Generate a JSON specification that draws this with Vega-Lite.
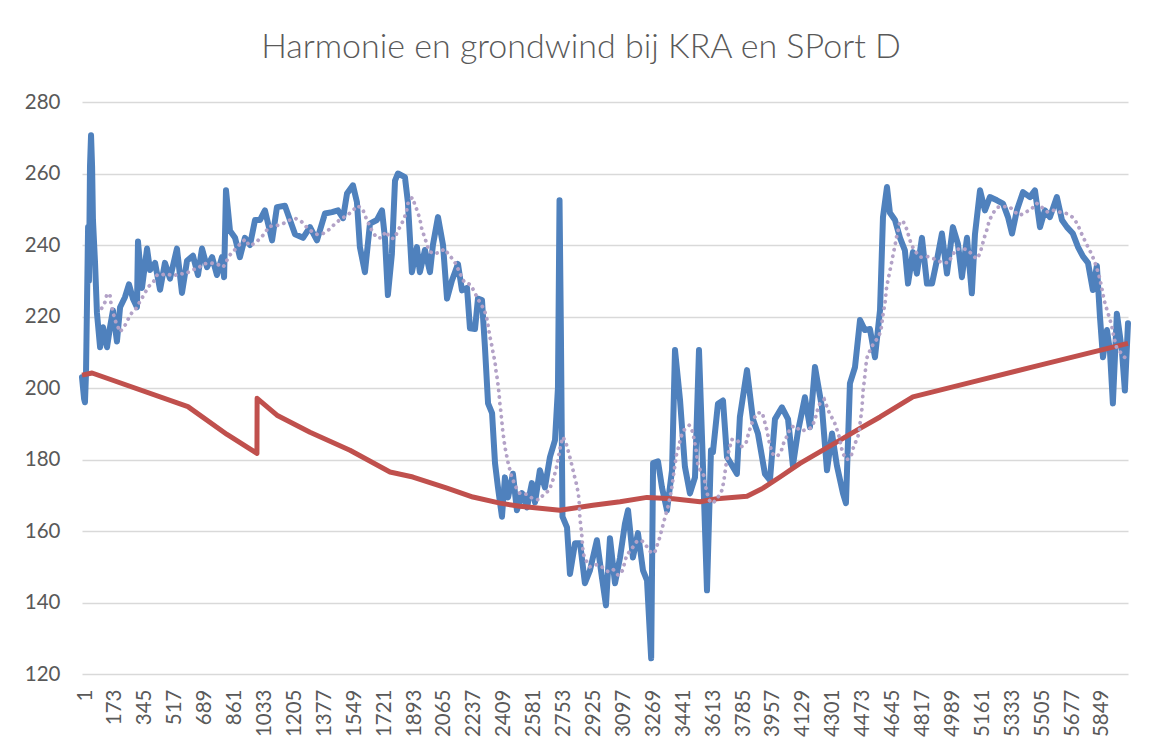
{
  "$schema": "https://vega.github.io/schema/vega-lite/v6.json",
  "width": 1046,
  "height": 572,
  "autosize": {"type": "none"},
  "padding": {"left": 82, "top": 102, "right": 23, "bottom": 77},
  "background": "white",
  "title": {
    "text": "Harmonie en grondwind bij KRA en SPort D",
    "anchor": "middle",
    "frame": "group",
    "dx": -24,
    "offset": 27,
    "font": "Lato",
    "fontSize": 34,
    "fontWeight": 300,
    "color": "#595959"
  },
  "config": {
    "view": {"stroke": null},
    "axis": {"labelFont": "Lato", "labelColor": "#595959", "labelFontSize": 20.5}
  },
  "datasets": {
    "blue": [[1,203],[13,197],[18,196],[24,204],[36,245],[41,230],[47,262],[53,270.7],[59,262],[64,247],[76,235],[87,221],[105,211.4],[122,217],[145,211.4],[162,217],[179,221.7],[202,213],[220,222.6],[248,225.4],[271,229],[294,225],[317,222.6],[323,241],[346,228],[375,239],[392,233],[421,235],[450,227.5],[478,235],[507,230.6],[547,239],[576,226.6],[605,235.6],[639,237],[668,231.6],[691,239],[720,233.8],[749,236.6],[777,231.6],[806,236.6],[818,231],[829,255.3],[852,244],[881,242],[909,236.6],[938,242],[967,240],[996,247],[1025,247],[1053,249.7],[1094,241.3],[1122,250.6],[1168,251],[1197,247],[1226,243],[1272,242],[1312,245],[1352,241.3],[1398,248.8],[1439,249.2],[1473,249.7],[1502,247.5],[1525,254.4],[1559,256.7],[1582,252],[1599,239.4],[1628,232.4],[1657,246],[1697,247],[1726,249.7],[1743,242],[1760,226],[1783,237.5],[1801,258],[1818,260],[1858,259],[1875,252],[1898,232.4],[1927,239.4],[1944,232.4],[1973,238.6],[2002,232.4],[2019,240],[2048,247.8],[2077,240],[2100,225],[2128,230],[2163,234.7],[2186,227.3],[2215,228],[2232,216.7],[2261,216.5],[2278,225],[2301,224.6],[2318,211.5],[2336,195.7],[2359,193],[2376,179],[2393,172.2],[2416,164],[2433,175],[2451,169.4],[2479,176],[2502,165.8],[2531,170.6],[2560,166.6],[2588,173.4],[2606,168],[2634,177],[2663,172.2],[2692,180.7],[2721,185.4],[2738,200],[2747,252.5],[2755,215],[2764,164],[2790,161],[2807,148],[2836,156.6],[2865,156.6],[2893,145.4],[2922,149],[2962,157.4],[2991,147],[3014,139.2],[3037,158],[3066,145.4],[3095,152.6],[3123,162],[3141,165.8],[3169,152.6],[3198,159.4],[3227,149],[3250,146.2],[3274,124.4],[3285,179],[3313,179.5],[3336,172.2],[3365,165.8],[3394,177],[3411,210.6],[3440,196.6],[3468,178],[3497,170.5],[3526,175],[3549,210.6],[3572,178],[3595,143.4],[3618,182.6],[3629,182],[3658,195.6],[3687,196.5],[3710,180.7],[3739,178.3],[3767,176],[3784,191.8],[3825,205],[3859,191.3],[3888,187.3],[3928,176],[3957,174.2],[3986,191.3],[4026,194.6],[4061,191.3],[4089,178.3],[4118,187.8],[4158,197.4],[4187,189],[4216,205.9],[4256,194.6],[4285,177],[4314,187.3],[4342,178.3],[4377,170.5],[4394,167.8],[4417,201.3],[4446,205.8],[4475,219],[4503,216.2],[4532,216.5],[4561,208.6],[4590,221.8],[4607,247.8],[4630,256.2],[4647,249],[4676,247],[4705,242],[4733,238.5],[4751,229.2],[4779,238],[4802,232],[4831,242],[4860,229.2],[4889,229.2],[4917,235.7],[4946,243.2],[4975,232],[5009,245],[5038,240.3],[5061,231],[5090,242],[5118,226.5],[5136,243],[5165,255.3],[5193,249.7],[5222,253.4],[5262,252.5],[5297,251.6],[5326,247.8],[5349,243.2],[5377,249.7],[5412,254.8],[5452,253.4],[5481,255.3],[5510,245],[5538,249.7],[5567,247.8],[5607,253.4],[5636,247],[5665,245],[5699,243.2],[5728,239.5],[5757,236.8],[5786,235],[5814,227.4],[5837,234.2],[5855,219.8],[5872,208.6],[5895,216.2],[5912,210.5],[5929,195.7],[5952,220.8],[5981,210.5],[5998,199.3],[6016,218.1]],
    "red": [[1,203.6],[59,204.2],[610,194.8],[835,187],[1007,181.7],[1008,197.1],[1122,192.4],[1312,187.6],[1542,182.6],[1772,176.5],[1904,175.1],[2100,172],[2249,169.5],[2404,167.8],[2519,166.9],[2749,165.8],[2939,167.2],[3095,168.2],[3250,169.4],[3400,169],[3555,168.2],[3652,169],[3825,169.7],[3917,172],[4015,175.1],[4130,178.9],[4360,185.4],[4475,188.7],[4590,191.9],[4779,197.5],[5124,201.7],[5510,206.4],[6016,212.5]],
    "purple": [[114,222.3],[133,224],[145,226.4],[162,226],[168,223.6],[179,221.2],[191,219],[220,215.7],[248,217.5],[267,219.3],[287,221],[316,222.5],[335,224.3],[358,226.1],[382,228.3],[411,229.6],[434,231.7],[461,231.7],[491,231.9],[526,231.3],[559,232],[595,231.9],[634,233],[668,233.5],[698,234.7],[737,235],[776,234.7],[813,233.8],[833,235.6],[856,237.5],[886,239],[914,240.5],[940,241.6],[963,239.8],[996,240.5],[1024,241.8],[1053,243.3],[1076,245.2],[1120,245.4],[1158,246],[1197,247],[1230,247.4],[1264,246.5],[1293,245],[1322,243.8],[1356,242.9],[1394,243.3],[1427,244.5],[1456,246],[1490,247.3],[1523,248.2],[1555,249.5],[1586,251],[1615,250],[1634,247.6],[1653,245.6],[1670,243.8],[1696,242],[1724,242],[1749,243.8],[1772,242],[1797,241.8],[1816,243.8],[1835,245.6],[1854,247.4],[1868,249.7],[1877,252],[1900,253.3],[1916,251.2],[1931,249.3],[1945,247],[1954,244.7],[1968,242.6],[1983,240.4],[1996,238.4],[2021,237.5],[2055,237.9],[2086,238.9],[2113,237.1],[2140,235.7],[2159,233.8],[2178,231.7],[2199,229.6],[2232,229],[2255,227.2],[2276,225],[2299,223.2],[2318,221.3],[2331,219],[2339,216.6],[2347,214.3],[2357,212],[2366,209.6],[2376,207.3],[2381,205],[2389,202.6],[2395,200.3],[2400,198],[2404,195.6],[2410,193.3],[2420,188.2],[2433,183.5],[2452,178.9],[2472,175.1],[2496,172.3],[2519,170.5],[2554,170.3],[2592,169.1],[2630,168.7],[2657,170.3],[2688,171.4],[2715,175.1],[2730,177.9],[2745,181.7],[2755,184.5],[2768,186.3],[2788,184],[2811,179.8],[2834,175.1],[2845,173],[2855,170.5],[2860,168.2],[2864,163.6],[2870,161.3],[2876,158.3],[2883,153.7],[2899,151.8],[2922,150],[2960,150.6],[2995,149.8],[3027,148.6],[3056,149.2],[3085,147.6],[3110,149],[3133,153.2],[3162,155],[3190,157],[3219,157.4],[3248,155.7],[3277,153.7],[3296,154.2],[3324,158.3],[3349,163],[3372,167],[3392,171.9],[3405,176.5],[3420,181.5],[3435,184],[3443,186.1],[3462,188.2],[3493,189.6],[3512,187.8],[3522,185.4],[3531,183.1],[3543,178.4],[3560,176.6],[3577,175.5],[3593,171],[3608,168.6],[3627,167.7],[3654,169.1],[3681,171.4],[3692,174],[3704,178.4],[3717,181.6],[3737,185.6],[3769,185.4],[3794,183.6],[3819,184.5],[3832,186.9],[3846,189.2],[3861,191.1],[3884,193],[3913,193.1],[3924,191],[3938,188.5],[3957,183.9],[3972,181.6],[3999,180.8],[4024,182.7],[4037,184.8],[4059,186.9],[4076,189],[4101,189.4],[4133,188],[4168,188.3],[4197,189],[4216,191.2],[4229,193.6],[4244,195.7],[4269,196.8],[4286,194.6],[4302,192.6],[4325,190.8],[4340,188.7],[4355,186.4],[4375,181.8],[4398,179.9],[4423,180.8],[4436,183.2],[4455,185.5],[4470,187.4],[4475,190],[4486,194.2],[4493,199.4],[4503,203.5],[4513,208.2],[4532,210.5],[4551,212.3],[4580,214.2],[4595,216],[4608,220.8],[4618,223.5],[4628,228.2],[4637,230.5],[4647,232.8],[4657,235.2],[4666,237.5],[4676,239.8],[4685,242.2],[4695,244.3],[4704,246.5],[4723,246.6],[4743,244.5],[4758,242],[4772,239.9],[4796,238],[4825,236.6],[4861,236.8],[4902,236.1],[4944,235.2],[4982,235],[5026,238.7],[5059,239],[5091,238.7],[5117,237.5],[5145,236.1],[5164,237.5],[5178,239.9],[5189,242],[5203,244],[5216,246.4],[5232,248.3],[5251,249.7],[5270,250.6],[5298,250.8],[5337,250.6],[5366,249.2],[5394,248.3],[5429,249.2],[5462,250.1],[5490,251.7],[5519,250.6],[5554,249.2],[5586,249.7],[5624,249.2],[5663,248.8],[5697,247.8],[5724,246],[5743,243.8],[5762,241.8],[5781,239.9],[5801,238],[5820,235.9],[5835,233.8],[5849,231.5],[5860,229.2],[5870,226.8],[5879,224.5],[5893,222.2],[5908,219.8],[5922,217.5],[5935,214.2],[5950,211.4],[5979,209.6],[6004,208.2]]
  },
  "encoding": {
    "x": {
      "field": "0", "type": "quantitative",
      "scale": {"domain": [1, 6016], "nice": false, "zero": false},
      "axis": {
        "title": null,
        "format": "d",
        "values": [1,173,345,517,689,861,1033,1205,1377,1549,1721,1893,2065,2237,2409,2581,2753,2925,3097,3269,3441,3613,3785,3957,4129,4301,4473,4645,4817,4989,5161,5333,5505,5677,5849],
        "labelAngle": 270,
        "labelAlign": "right",
        "labelBaseline": "middle",
        "labelPadding": 15,
        "labelOffset": 3,
        "labelOverlap": false,
        "labelFlush": false,
        "labelBound": false,
        "ticks": false,
        "domain": false,
        "grid": false
      }
    },
    "y": {
      "field": "1", "type": "quantitative",
      "scale": {"domain": [120, 280], "nice": false, "zero": false},
      "axis": {
        "title": null,
        "values": [120,140,160,180,200,220,240,260,280],
        "ticks": false,
        "domain": false,
        "grid": true,
        "gridColor": "#d9d9d9",
        "gridWidth": 1.4,
        "labelPadding": 22
      }
    }
  },
  "layer": [
    {
      "data": {"name": "blue"},
      "mark": {"type": "line", "color": "#4f81bd", "strokeWidth": 6, "strokeJoin": "round", "strokeCap": "round"}
    },
    {
      "data": {"name": "red"},
      "mark": {"type": "line", "color": "#c0504d", "strokeWidth": 5, "strokeJoin": "round"}
    },
    {
      "data": {"name": "purple"},
      "mark": {"type": "line", "color": "#b3a2c7", "strokeWidth": 3.8, "strokeCap": "round", "strokeDash": [0.1, 6.5]}
    }
  ]
}
